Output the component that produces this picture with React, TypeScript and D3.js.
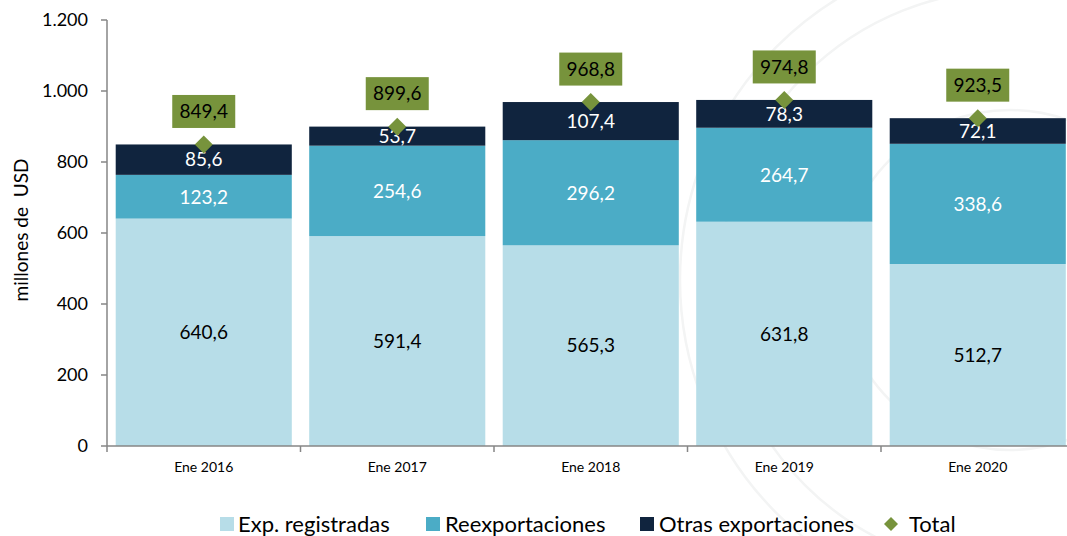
import React from "react";
import * as d3 from "d3";

const categories = ["Ene 2016", "Ene 2017", "Ene 2018", "Ene 2019", "Ene 2020"];
const expRegistradas = [640.6, 591.4, 565.3, 631.8, 512.7];
const reexportaciones = [123.2, 254.6, 296.2, 264.7, 338.6];
const otrasExportaciones = [85.6, 53.7, 107.4, 78.3, 72.1];
const totals = [849.4, 899.6, 968.8, 974.8, 923.5];
const yTicks = [0, 200, 400, 600, 800, 1000, 1200];
const seriesNames = ["Exp. registradas", "Reexportaciones", "Otras exportaciones"];
const totalName = "Total";

const W = 1067;
const H = 536;
const FONT = "Lato, 'Open Sans', sans-serif";
const colors = ["#b7dde8", "#4bacc6", "#10243e"];
const labelColors = ["#000000", "#ffffff", "#ffffff"];
const green = "#77933c";
const axisColor = "#868686";

const fmt = (v: number) => v.toFixed(1).replace(".", ",");
const fmtTick = (v: number) => d3.format(",")(v).replace(/,/g, ".");

export default function App() {
  const x = d3
    .scaleBand<string>()
    .domain(categories)
    .range([107, 107 + 5 * 193.5])
    .paddingInner(0.09)
    .paddingOuter(0.045);
  const y = d3.scaleLinear().domain([0, 1200]).range([446, 20]);

  const rows = categories.map((c, i) => ({
    cat: c,
    exp: expRegistradas[i],
    reexp: reexportaciones[i],
    otras: otrasExportaciones[i],
  }));
  const stack = d3.stack<any>().keys(["exp", "reexp", "otras"])(rows);
  const step = x.step();
  const left = x.range()[0];

  return (
    <svg width={W} height={H} style={{ position: "absolute", left: 0, top: 0, fontFamily: FONT }}>
      <rect width={W} height={H} fill="#ffffff" />
      {/* faint watermark seal */}
      <g fill="none" stroke="#f3f4f4" strokeWidth={2.5}>
        <circle cx={1010} cy={280} r={330} />
        <circle cx={1010} cy={280} r={290} />
        <circle cx={1010} cy={280} r={170} />
      </g>

      {/* stacked bars */}
      {stack.map((layer, si) => (
        <g key={si}>
          {layer.map((d, i) => (
            <rect
              key={i}
              x={x(categories[i])}
              y={y(d[1])}
              width={x.bandwidth()}
              height={y(d[0]) - y(d[1])}
              fill={colors[si]}
            />
          ))}
        </g>
      ))}

      {/* segment labels */}
      {stack.map((layer, si) => (
        <g key={"l" + si}>
          {layer.map((d, i) => (
            <text
              key={i}
              x={(x(categories[i]) as number) + x.bandwidth() / 2}
              y={(y(d[0]) + y(d[1])) / 2}
              dy="0.36em"
              textAnchor="middle"
              fontSize={19}
              fill={labelColors[si]}
            >
              {fmt(d[1] - d[0])}
            </text>
          ))}
        </g>
      ))}

      {/* total markers and labels */}
      {totals.map((t, i) => {
        const cx = (x(categories[i]) as number) + x.bandwidth() / 2;
        const cy = y(t);
        const bw = 63;
        const bh = 33;
        return (
          <g key={"t" + i}>
            <path
              d={`M${cx},${cy - 9} L${cx + 9},${cy} L${cx},${cy + 9} L${cx - 9},${cy} Z`}
              fill={green}
            />
            <rect x={cx - bw / 2} y={cy - 33 - bh / 2} width={bw} height={bh} fill={green} />
            <text x={cx} y={cy - 33} dy="0.36em" textAnchor="middle" fontSize={19} fill="#000">
              {fmt(t)}
            </text>
          </g>
        );
      })}

      {/* y axis */}
      <line x1={107} x2={107} y1={y(1200)} y2={y(0) + 6} stroke={axisColor} strokeWidth={1.5} />
      {yTicks.map((t) => (
        <g key={"y" + t}>
          <line x1={101} x2={107} y1={y(t)} y2={y(t)} stroke={axisColor} strokeWidth={1.5} />
          <text x={88} y={y(t)} dy="0.36em" textAnchor="end" fontSize={18} fill="#000">
            {fmtTick(t)}
          </text>
        </g>
      ))}
      <text
        transform={`translate(21,${230}) rotate(-90)`}
        textAnchor="middle"
        dy="0.36em"
        fontSize={19}
        fill="#000"
        style={{ whiteSpace: "pre" }}
      >
        {"millones de  USD"}
      </text>

      {/* x axis */}
      <line x1={107} x2={W} y1={y(0)} y2={y(0)} stroke={axisColor} strokeWidth={1.5} />
      {categories.map((c, i) => (
        <g key={"x" + i}>
          <line
            x1={left + step * (i + 1)}
            x2={left + step * (i + 1)}
            y1={y(0)}
            y2={y(0) + 6}
            stroke={axisColor}
            strokeWidth={1.5}
          />
          <text
            x={(x(c) as number) + x.bandwidth() / 2}
            y={467}
            dy="0.36em"
            textAnchor="middle"
            fontSize={14}
            fill="#000"
          >
            {c}
          </text>
        </g>
      ))}

      {/* legend */}
      {[
        { x: 220, tx: 238 },
        { x: 426, tx: 445 },
        { x: 640, tx: 659 },
      ].map((p, i) => (
        <g key={"lg" + i}>
          <rect x={p.x} y={517} width={14} height={14} fill={colors[i]} />
          <text x={p.tx} y={524} dy="0.36em" fontSize={22} fill="#000">
            {seriesNames[i]}
          </text>
        </g>
      ))}
      <path d="M891,517 L898,524 L891,531 L884,524 Z" fill={green} />
      <text x={909} y={524} dy="0.36em" fontSize={22} fill="#000">
        {totalName}
      </text>
    </svg>
  );
}
